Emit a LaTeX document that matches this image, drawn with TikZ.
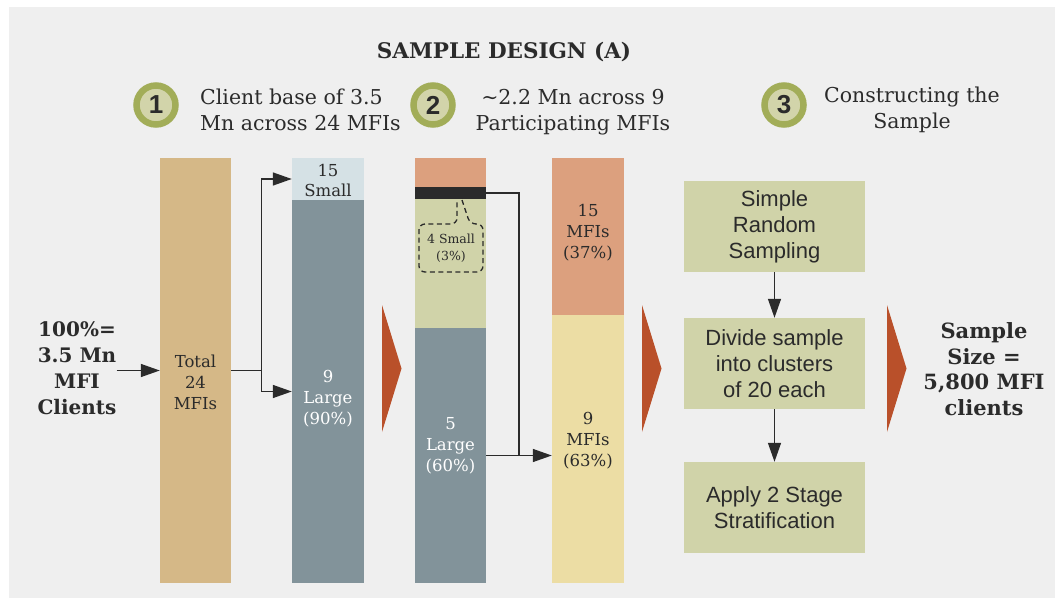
\documentclass[tikz,border=0pt]{standalone}
\usepackage{fontspec}
\setmainfont{DejaVu Serif}
\newfontfamily\boxfont{Liberation Sans}
\usetikzlibrary{arrows.meta}
\definecolor{paper}{HTML}{EFEFEF}
\definecolor{ink}{HTML}{2B2B2B}
\definecolor{tan}{HTML}{D5B887}
\definecolor{paleblue}{HTML}{D5E1E5}
\definecolor{slate}{HTML}{82939A}
\definecolor{salmon}{HTML}{DCA07E}
\definecolor{sage}{HTML}{D0D3A9}
\definecolor{straw}{HTML}{ECDDA4}
\definecolor{rust}{HTML}{B9502A}
\definecolor{olive}{HTML}{A2AD58}
\definecolor{olivein}{HTML}{D2D4AA}
\tikzset{
  bar/.style={rectangle, inner sep=0pt, minimum width=71pt},
  lbl/.style={align=center, text=ink, inner sep=0pt, font=\fontsize{16.5}{21}\selectfont},
  stepbox/.style={rectangle, fill=sage, minimum width=181pt, minimum height=91pt, inner sep=0pt,
    align=center, text=ink, font=\boxfont\fontsize{22}{26}\selectfont},
  arr/.style={-{Triangle[length=19pt,width=13pt]}, line width=1.4pt, draw=ink},
  link/.style={line width=1.4pt, draw=ink},
}
\begin{document}
\begin{tikzpicture}[x=1pt, y=-1pt]
\useasboundingbox (0,0) rectangle (1055,599);
\fill [paper] (9,7) rectangle (1055,598);

% title and headings
\node [lbl, font=\bfseries\fontsize{21.5}{24}\selectfont] (title) at (504,52) {SAMPLE DESIGN (A)};
\foreach \n/\x in {1/156, 2/433, 3/784}{
  \draw [olive, line width=6.5pt, fill=olivein] (\x,105) circle[radius=19.5];
  \node [text=ink, font=\boxfont\bfseries\fontsize{26}{26}\selectfont] (num\n) at (\x,105) {\n};
}
\node [lbl, align=left, anchor=west, font=\fontsize{20.5}{26}\selectfont] (head1) at (200,110) {Client base of 3.5\\Mn across 24 MFIs};
\node [lbl, font=\fontsize{20.5}{26}\selectfont] (head2) at (573,112) {\textasciitilde2.2 Mn across 9\\Participating MFIs};
\node [lbl, font=\fontsize{20.5}{26}\selectfont] (head3) at (912,110) {Constructing the\\Sample};

% step 1
\node [lbl, font=\bfseries\fontsize{20}{26}\selectfont] (clients) at (77,368) {100\%=\\3.5 Mn\\MFI\\Clients};
\node [bar, fill=tan, minimum height=425pt] (total) at (195.5,370.5) {};
\node [lbl] at (195.5,382) {Total\\24\\MFIs};
\node [bar, fill=paleblue, minimum width=72pt, minimum height=42pt] (small) at (328,179) {};
\node [lbl, font=\fontsize{16.5}{20}\selectfont] at (328,180) {15\\Small};
\node [bar, fill=slate, minimum width=72pt, minimum height=383pt] (large) at (328,391.5) {};
\node [lbl, text=white] at (328,399) {9\\Large\\(90\%)};

\draw [arr] (clients.east |- total.west) -- (total.west);
\draw [link] (total.east) -- ++(30,0) coordinate (split);
\draw [arr] (split) |- (small.west);
\draw [arr] (split) |- (large.west);

% step 2
\node [bar, fill=salmon, minimum height=29pt] (top3) at (450.5,172.5) {};
\node [bar, fill=ink, minimum height=12pt] (band) at (450.5,193) {};
\node [bar, fill=sage, minimum height=129pt] (mid3) at (450.5,263.5) {};
\node [bar, fill=slate, minimum height=255pt] (large3) at (450.5,455.5) {};
\node [lbl, text=white] at (450.5,446) {5\\Large\\(60\%)};
\draw [dash pattern=on 5pt off 3.5pt, line width=1.3pt, ink, rounded corners=6pt]
  (462,200) -- (470,224) -- (483,224) -- (483,272) -- (419,272) -- (419,224) -- (457,224) -- (457,200);
\node [lbl, font=\fontsize{12.5}{17}\selectfont] (few) at (451,248) {4 Small\\(3\%)};

\node [bar, fill=salmon, minimum width=72pt, minimum height=157pt] (top4) at (588,236.5) {};
\node [lbl] at (588,233) {15\\MFIs\\(37\%)};
\node [bar, fill=straw, minimum width=72pt, minimum height=268pt] (low4) at (588,449) {};
\node [lbl] at (588,441) {9\\MFIs\\(63\%)};

\coordinate (join) at (519,455.5);
\draw [link, line width=1.2pt] (band.east) -| (join);
\draw [link] (large3.east) -- (join);
\draw [arr] (join) -- (join -| low4.west);

% step 3
\node [stepbox] (srs) at (774.5,226.5) {Simple\\Random\\Sampling};
\node [stepbox] (divide) at (774.5,363.5) {Divide sample\\into clusters\\of 20 each};
\node [stepbox] (apply) at (774.5,507.5) {Apply 2 Stage\\Stratification};
\draw [arr] (srs) -- (divide);
\draw [arr] (divide) -- (apply);

\node [lbl, font=\bfseries\fontsize{21}{25.5}\selectfont] (size) at (984,369) {Sample\\Size =\\5,800 MFI\\clients};

% chevrons
\foreach \x in {382, 642, 887}
  \fill [rust] (\x,305) -- (\x+19.5,368.5) -- (\x,432) -- cycle;
\end{tikzpicture}
\end{document}
